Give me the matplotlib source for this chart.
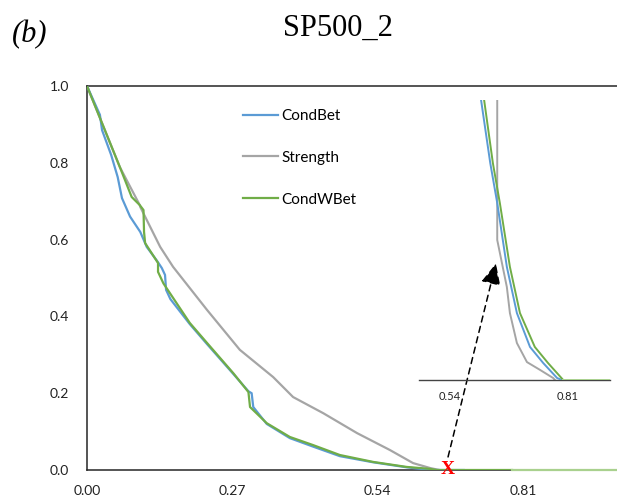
import matplotlib
matplotlib.use("Agg")
import matplotlib.pyplot as plt

# ---- data ----
condbet_x = [0.0, 0.024, 0.028, 0.045, 0.057, 0.065, 0.080, 0.099, 0.111, 0.130, 0.139, 0.145,
             0.147, 0.155, 0.191, 0.223, 0.272, 0.300, 0.306, 0.309, 0.334, 0.377, 0.420,
             0.470, 0.532, 0.594, 0.640, 0.700]
condbet_y = [1.0, 0.925, 0.885, 0.820, 0.763, 0.708, 0.660, 0.620, 0.581, 0.545, 0.526, 0.508,
             0.469, 0.445, 0.380, 0.328, 0.250, 0.205, 0.200, 0.164, 0.120, 0.083, 0.061,
             0.036, 0.020, 0.007, 0.0, 0.0]

strength_x = [0.0, 0.061, 0.098, 0.099, 0.136, 0.160, 0.223, 0.284, 0.346, 0.383, 0.439,
              0.502, 0.563, 0.606, 0.638, 0.655]
strength_y = [1.0, 0.789, 0.690, 0.685, 0.581, 0.529, 0.417, 0.313, 0.242, 0.190, 0.148,
              0.096, 0.052, 0.018, 0.005, 0.0]

condwbet_x = [0.0, 0.061, 0.083, 0.098, 0.105, 0.106, 0.108, 0.132, 0.132, 0.142, 0.191,
              0.223, 0.272, 0.300, 0.303, 0.334, 0.377, 0.420, 0.470, 0.532, 0.594, 0.637,
              0.650, 0.790]
condwbet_y = [1.0, 0.789, 0.711, 0.690, 0.677, 0.620, 0.591, 0.539, 0.516, 0.486, 0.383,
              0.331, 0.252, 0.203, 0.164, 0.122, 0.086, 0.065, 0.039, 0.021, 0.008, 0.003,
              0.0, 0.0]
tail_x = [0.790, 0.985]
tail_y = [0.0, 0.0]

x_ticks = [0.00, 0.27, 0.54, 0.81]
y_ticks = [0.0, 0.2, 0.4, 0.6, 0.8, 1.0]

# inset (zoomed view)
in_condbet_x = [0.604, 0.611, 0.632, 0.648, 0.670, 0.693, 0.723, 0.753, 0.785, 0.796]
in_condbet_y = [0.107, 0.100, 0.0775, 0.0632, 0.0404, 0.0239, 0.0118, 0.0061, 0.0007, 0.0]
in_strength_x = [0.648, 0.648, 0.670, 0.677, 0.693, 0.716, 0.746, 0.776, 0.780]
in_strength_y = [0.110, 0.050, 0.0332, 0.0239, 0.0132, 0.0064, 0.0036, 0.0007, 0.0]
in_condwbet_x = [0.611, 0.618, 0.638, 0.654, 0.677, 0.700, 0.734, 0.764, 0.799, 0.906]
in_condwbet_y = [0.107, 0.100, 0.0775, 0.0632, 0.0404, 0.0239, 0.0118, 0.0061, 0.0, 0.0]
in_ticks = [0.54, 0.81]

marker_x = 0.671
arrow_end = (0.760, 0.538)

BLUE = "#5B9BD5"
GRAY = "#A5A5A5"
GREEN = "#70AD47"
LIGHTGREEN = "#A9D18E"
AX = "#262626"
TICKFONT = "Lato"

W, H = 617, 497
fig = plt.figure(figsize=(W / 100, H / 100), dpi=100)

def fx(px):
    return px / W

def fy(py):
    return 1 - py / H

ax = fig.add_axes([fx(87), fy(470), fx(617) - fx(87), fy(86) - fy(470)])
ax.set_xlim(0, 0.985)
ax.set_ylim(0, 1.0)
ax.plot(condbet_x, condbet_y, color=BLUE, lw=1.6, label="CondBet", zorder=3)
ax.plot(strength_x, strength_y, color=GRAY, lw=1.6, label="Strength", zorder=2)
ax.plot(condwbet_x, condwbet_y, color=GREEN, lw=1.6, label="CondWBet", zorder=4)
ax.plot(tail_x, tail_y, color=LIGHTGREEN, lw=1.6, zorder=4, clip_on=False)

for s in ["left", "top", "bottom"]:
    ax.spines[s].set_color(AX)
    ax.spines[s].set_linewidth(1.1)
ax.spines["right"].set_visible(False)
ax.set_xticks(x_ticks)
ax.set_xticklabels([f"{v:.2f}" for v in x_ticks])
ax.set_yticks(y_ticks)
ax.set_yticklabels([f"{v:.1f}" for v in y_ticks])
ax.tick_params(axis="both", length=0, labelsize=10, colors="#222222")
ax.tick_params(axis="y", pad=13)
ax.tick_params(axis="x", pad=11)
for lab in ax.get_xticklabels() + ax.get_yticklabels():
    lab.set_fontfamily(TICKFONT)

leg = ax.legend(loc="upper left", bbox_to_anchor=(fx(243), fy(109)),
                bbox_transform=fig.transFigure, frameon=False,
                prop={"family": TICKFONT, "size": 11},
                handlelength=2.3, handletextpad=0.2, labelspacing=1.82,
                borderpad=0, borderaxespad=0)

# red X marker
ax.text(marker_x, 0.0, "X", color="red", fontsize=14, fontweight="bold",
        fontfamily="Liberation Serif", ha="center", va="center", zorder=6, clip_on=False)

# inset
ins = fig.add_axes([fx(419), fy(380), fx(610) - fx(419), fy(100) - fy(380)])
ins.patch.set_alpha(0)
ins.set_xlim(0.469, 0.906)
ins.set_ylim(0, 0.1)
ins.plot(in_condbet_x, in_condbet_y, color=BLUE, lw=1.4, zorder=3)
ins.plot(in_strength_x, in_strength_y, color=GRAY, lw=1.4, zorder=2)
ins.plot(in_condwbet_x[:-1], in_condwbet_y[:-1], color=GREEN, lw=1.4, zorder=4)
ins.plot(in_condwbet_x[-2:], in_condwbet_y[-2:], color=LIGHTGREEN, lw=1.4, zorder=4)
for s in ["left", "top", "right"]:
    ins.spines[s].set_visible(False)
ins.spines["bottom"].set_color("#444444")
ins.spines["bottom"].set_linewidth(1.0)
ins.set_yticks([])
ins.set_xticks(in_ticks)
ins.set_xticklabels([f"{v:.2f}" for v in in_ticks])
ins.tick_params(axis="x", length=0, labelsize=8, pad=8, colors="#222222")
for lab in ins.get_xticklabels():
    lab.set_fontfamily(TICKFONT)

# dashed arrow from X to inset
ax.annotate("", xy=arrow_end, xytext=(marker_x, 0.034), xycoords="data",
            arrowprops=dict(arrowstyle="-|>,head_length=1.3,head_width=0.6",
                            linestyle=(0, (4, 3)), color="black", lw=1.1,
                            shrinkA=0, shrinkB=0), zorder=7, annotation_clip=False)

fig.text(fx(338), fy(28), "SP500_2", fontsize=22, fontfamily="Liberation Serif",
         ha="center", va="center")
fig.text(fx(12), fy(35), "(b)", fontsize=22, fontfamily="Liberation Serif",
         fontstyle="italic", ha="left", va="center")

fig.savefig("out.png", dpi=100)
